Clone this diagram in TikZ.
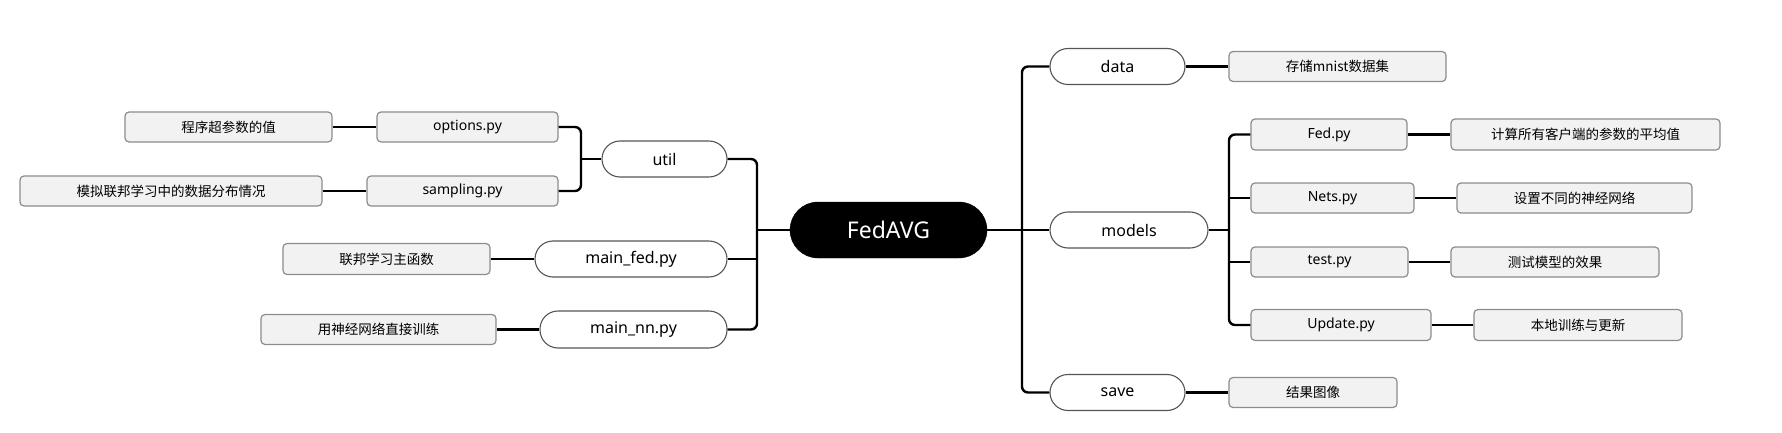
\documentclass[tikz,border=0pt]{standalone}
\usepackage{fontspec}
\setmainfont{Noto Sans}
\newfontfamily\cjk{Noto Sans CJK SC}
\definecolor{boxfill}{HTML}{F2F2F2}
\definecolor{boxline}{HTML}{8C8C8C}
\definecolor{pillline}{HTML}{555555}
\begin{document}
\begin{tikzpicture}[x=1pt,y=-1pt,
  rootnode/.style={draw=black,fill=black,text=white,rounded corners=28pt,minimum width=197pt,minimum height=56pt,inner sep=0pt,font=\fontsize{23}{26}\selectfont},
  pill/.style={draw=pillline,line width=1.1pt,fill=white,rounded corners=18pt,minimum height=36pt,inner sep=0pt,font=\fontsize{16}{19}\selectfont},
  filebox/.style={draw=boxline,line width=1.2pt,fill=boxfill,rounded corners=4pt,minimum height=30pt,inner sep=0pt,font=\fontsize{14}{17}\selectfont},
  notebox/.style={filebox,font=\cjk\fontsize{13.5}{16}\selectfont},
  conn/.style={draw=black,line width=2.4pt,rounded corners=6pt}]
\useasboundingbox (0,0) rectangle (1782,433);

% nodes
\node[rootnode] (fed) at (888.5,230) {FedAVG};

\node[pill,minimum width=135pt] (data) at (1117.5,66.5) {data};
\node[pill,minimum width=158pt] (models) at (1129,230) {models};
\node[pill,minimum width=135pt] (save) at (1117.5,392.5) {save};

\node[notebox,minimum width=217pt] (ndata) at (1337.5,66.5) {存储mnist数据集};
\node[notebox,minimum width=168pt] (nsave) at (1313,392.5) {结果图像};

\node[filebox,minimum width=156pt,minimum height=31pt] (fedpy) at (1329,134.5) {Fed.py};
\node[filebox,minimum width=163pt] (netspy) at (1332.5,198) {Nets.py};
\node[filebox,minimum width=157pt] (testpy) at (1329.5,262) {test.py};
\node[filebox,minimum width=180pt,minimum height=31pt] (updatepy) at (1341,325) {Update.py};

\node[notebox,minimum width=269pt,minimum height=31pt] (nfed) at (1585.5,134.5) {计算所有客户端的参数的平均值};
\node[notebox,minimum width=235pt] (nnets) at (1574.5,198) {设置不同的神经网络};
\node[notebox,minimum width=208pt] (ntest) at (1555,262) {测试模型的效果};
\node[notebox,minimum width=208pt,minimum height=31pt] (nupdate) at (1578,325) {本地训练与更新};

\node[pill,minimum width=125pt] (util) at (664.5,159) {util};
\node[pill,minimum width=192pt] (mainfed) at (631,259) {main\_fed.py};
\node[pill,minimum width=187pt,minimum height=37pt] (mainnn) at (633.5,329.5) {main\_nn.py};

\node[filebox,minimum width=181pt] (options) at (467.5,127) {options.py};
\node[filebox,minimum width=191pt] (sampling) at (462.5,191) {sampling.py};
\node[notebox,minimum width=207pt] (noptions) at (228.5,127) {程序超参数的值};
\node[notebox,minimum width=302pt] (nsampling) at (171,191) {模拟联邦学习中的数据分布情况};
\node[notebox,minimum width=207pt,minimum height=31pt] (nmainfed) at (386.5,259) {联邦学习主函数};
\node[notebox,minimum width=235pt] (nmainnn) at (378.5,329.5) {用神经网络直接训练};

% spine coordinates
\coordinate (rs) at (1022,230);
\coordinate (ms) at (1229,230);
\coordinate (ls) at (757,230);
\coordinate (us) at (581,159);

% right side
\draw[conn] (fed.east) -- (models.west);
\draw[conn] (data.west) -| (rs) |- (save.west);
\draw[conn] (data.east) -- (ndata.west);
\draw[conn] (save.east) -- (nsave.west);
\draw[conn] (models.east) -- (ms);
\draw[conn] (fedpy.west) -| (ms) |- (updatepy.west);
\draw[conn] (ms |- netspy.west) -- (netspy.west);
\draw[conn] (ms |- testpy.west) -- (testpy.west);
\draw[conn] (fedpy.east) -- (nfed.west);
\draw[conn] (netspy.east) -- (nnets.west);
\draw[conn] (testpy.east) -- (ntest.west);
\draw[conn] (updatepy.east) -- (nupdate.west);

% left side
\draw[conn] (fed.west) -- (ls);
\draw[conn] (util.east) -| (ls) |- (mainnn.east);
\draw[conn] (ls |- mainfed.east) -- (mainfed.east);
\draw[conn] (util.west) -- (us);
\draw[conn] (options.east) -| (us) |- (sampling.east);
\draw[conn] (options.west) -- (noptions.east);
\draw[conn] (sampling.west) -- (nsampling.east);
\draw[conn] (mainfed.west) -- (nmainfed.east);
\draw[conn] (mainnn.west) -- (nmainnn.east);
\end{tikzpicture}
\end{document}
